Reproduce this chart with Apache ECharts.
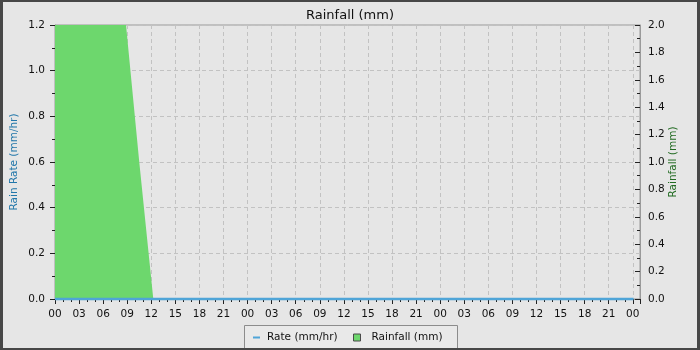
<!DOCTYPE html>
<html><head><meta charset="utf-8">
<script src="https://cdn.jsdelivr.net/npm/echarts@6/dist/echarts.min.js"></script>
<style>
html,body{margin:0;padding:0;background:#e6e6e6;}
#wrap{position:relative;width:700px;height:350px;}
#c{position:absolute;left:0;top:0;width:700px;height:350px;}
#frame{position:absolute;left:0;top:0;width:700px;height:350px;box-sizing:border-box;border:2px solid #474747;border-left-width:3px;border-right-width:3px;pointer-events:none;}
</style></head>
<body><div id="wrap"><div id="c"></div><div id="frame"></div></div>
<script>
// hours since start of the 3-day window
const rateHours = [0, 72.1];
const rateValues = [0, 0];
const rainHours = [0, 8.85, 10.5, 12.25, 72.1];
const rainValues = [2.0, 2.0, 1.0, 0.0, 0.0];
const xMax = 72.9;
const leftTicks = [0, 0.2, 0.4, 0.6, 0.8, 1.0, 1.2];
const rightTicks = [0, 0.2, 0.4, 0.6, 0.8, 1.0, 1.2, 1.4, 1.6, 1.8, 2.0];

const FONT = 'DejaVu Sans';
const FS = 10.5;
const chart = echarts.init(document.getElementById('c'), null, {renderer:'canvas'});
const rateData = rateHours.map((h,i)=>[h, rateValues[i]]);
const rainData = rainHours.map((h,i)=>[h, rainValues[i]]);
const green = '#6dd76d';
const blue = '#4fa5d8';
chart.setOption({
  backgroundColor: '#e6e6e6',
  animation: false,
  textStyle: {fontFamily: FONT},
  title: {text: 'Rainfall (mm)', left: 'center', top: 4,
    textStyle: {fontFamily: FONT, fontSize: 13, fontWeight: 'normal', color: '#111'}},
  grid: {left: 55, right: 60, top: 25, bottom: 51, show: true, borderColor: '#9a9a9a', borderWidth: 1, backgroundColor: 'transparent', containLabel: false, outerBoundsMode: 'none'},
  graphic: [{type: 'rect', shape: {x: 244.5, y: 325.5, width: 213, height: 26}, style: {fill: '#e9e9e9', stroke: '#8c8c8c', lineWidth: 1}, z: 0}],
  legend: [
    {data: [{name: 'Rate (mm/hr)', icon: 'path://M0,0H7V2H0Z', itemStyle: {borderWidth: 0}}], left: 253, top: 332, padding: 0,
      itemWidth: 11, itemHeight: 2, symbolKeepAspect: true, z: 5,
      textStyle: {fontFamily: FONT, fontSize: FS, color: '#111'}},
    {data: [{name: 'Rainfall (mm)', icon: 'path://M0,0H10V10H0Z', itemStyle: {color: green, borderColor: '#4a4a4a', borderWidth: 1}}], left: 353, top: 332, padding: 0,
      itemWidth: 19, itemHeight: 7, symbolKeepAspect: true, z: 5,
      textStyle: {fontFamily: FONT, fontSize: FS, color: '#111'}}
  ],
  xAxis: {type: 'value', min: 0, max: xMax, interval: 3,
    axisLine: {show: true, lineStyle: {color: '#9a9a9a'}},
    axisTick: {show: true, length: 5, lineStyle: {color: '#222'}},
    minorTick: {show: true, splitNumber: 3, length: 3, lineStyle: {color: '#222'}},
    axisLabel: {margin: 10, fontSize: FS, color: '#111', fontFamily: FONT, showMaxLabel: false,
      formatter: v => { if (Math.abs(v/3 - Math.round(v/3)) > 1e-6) return ''; const h = Math.round(v) % 24; return (h < 10 ? '0' : '') + h; }},
    splitLine: {show: true, lineStyle: {color: '#c2c2c2', type: [4, 3]}}
  },
  yAxis: [
    {type: 'value', min: leftTicks[0], max: leftTicks[leftTicks.length-1], interval: 0.2, position: 'left',
      name: 'Rain Rate (mm/hr)', nameLocation: 'middle', nameGap: 35, nameRotate: 90, nameMoveOverlap: false,
      nameTextStyle: {color: '#2277aa', fontSize: FS, fontFamily: FONT},
      axisLine: {show: true, lineStyle: {color: '#9a9a9a'}},
      axisTick: {show: true, length: 5, lineStyle: {color: '#222'}},
      minorTick: {show: true, splitNumber: 2, length: 3, lineStyle: {color: '#222'}},
      axisLabel: {margin: 10, fontSize: FS, color: '#111', fontFamily: FONT, formatter: v => v.toFixed(1)},
      splitLine: {show: true, lineStyle: {color: '#c2c2c2', type: [4, 3]}}
    },
    {type: 'value', min: rightTicks[0], max: rightTicks[rightTicks.length-1], interval: 0.2, position: 'right',
      name: 'Rainfall (mm)', nameLocation: 'middle', nameGap: 28, nameRotate: 90, nameMoveOverlap: false,
      nameTextStyle: {color: '#226b22', fontSize: FS, fontFamily: FONT},
      axisLine: {show: true, lineStyle: {color: '#9a9a9a'}},
      axisTick: {show: true, inside: true, length: 5, lineStyle: {color: '#222'}},
      minorTick: {show: true, splitNumber: 2, length: 3, lineStyle: {color: '#222'}},
      axisLabel: {margin: 8, fontSize: FS, color: '#111', fontFamily: FONT, formatter: v => v.toFixed(1)},
      splitLine: {show: false}
    }
  ],
  series: [
    {name: 'Rainfall (mm)', type: 'line', yAxisIndex: 1, data: rainData, showSymbol: false, symbol: 'none',
      color: green, lineStyle: {width: 0, color: green}, areaStyle: {color: green, opacity: 1}, z: 2},
    {name: 'Rate (mm/hr)', type: 'line', yAxisIndex: 0, data: rateData, showSymbol: false, symbol: 'none', clip: false,
      color: blue, lineStyle: {width: 2.5, color: blue}, z: 3}
  ]
});
</script></body></html>
